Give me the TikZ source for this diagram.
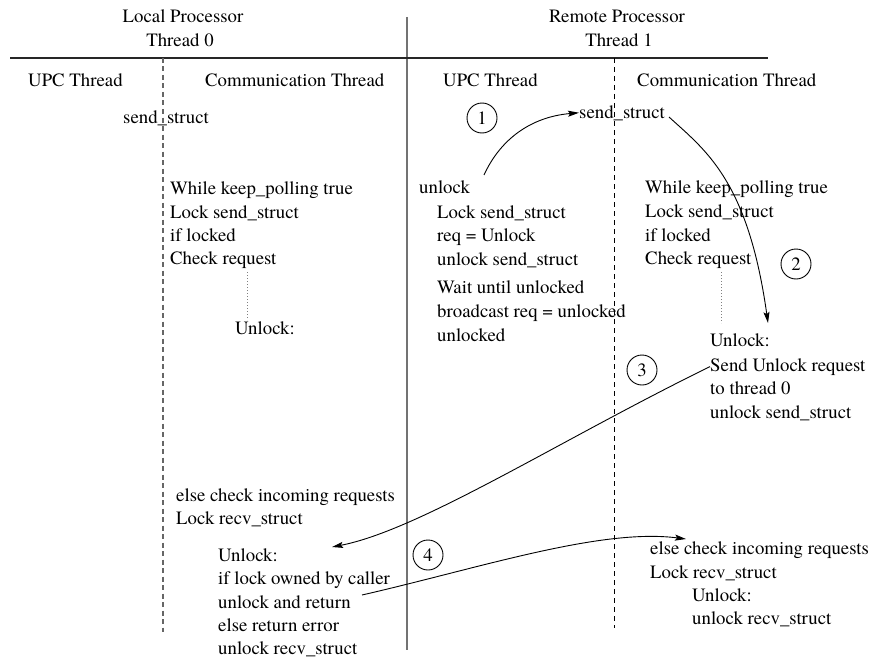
\documentclass[tikz,border=0pt]{standalone}
\usepackage{fontspec}
\setmainfont{TeX Gyre Termes}
\usetikzlibrary{arrows.meta}
\begin{document}
\begin{tikzpicture}[x=1pt,y=-1pt,
  txt/.style={anchor=base west, inner sep=0pt, font=\fontsize{18.8}{23}\selectfont},
  ctxt/.style={anchor=base, inner sep=0pt, font=\fontsize{18.8}{23}\selectfont},
  num/.style={draw, circle, minimum size=30pt, inner sep=0pt, line width=0.9pt,
    font=\fontsize{18.8}{23}\selectfont},
  flow/.style={line width=0.9pt, -{Stealth[length=11pt,width=6pt,inset=2pt]}},
  divider/.style={black!55, line width=2pt},
  rule/.style={black!85, line width=1.3pt},
  lane0/.style={black!60, line width=1.1pt, dash pattern=on 5pt off 3.5pt},
  lane1/.style={black, line width=1pt, dash pattern=on 5pt off 4pt},
  wait/.style={black!50, line width=1pt, dash pattern=on 1pt off 2pt}
]
\useasboundingbox (0,0) rectangle (874,658);

% frame of the two processors and their threads
\draw[divider] (407,17) -- (407,650);
\draw[rule] (10,58) -- (768,58);
\draw[lane0] (163,58) -- (163,632);
\draw[lane1] (614,58) -- (614,628);
\draw[wait] (247,272) -- (247,320);
\draw[wait] (721,272) -- (721,323);

% headings
\node[ctxt] (hL1) at (183,23) {Local Processor};
\node[ctxt] (hL2) at (180,47) {Thread 0};
\node[ctxt] (hR1) at (617,23) {Remote Processor};
\node[ctxt] (hR2) at (619,47) {Thread 1};
\node[txt] (cU0) at (28,87) {UPC Thread};
\node[txt] (cC0) at (205,87) {Communication Thread};
\node[txt] (cU1) at (443,87) {UPC Thread};
\node[txt] (cC1) at (637,87) {Communication Thread};

% thread 0
\node[txt] (lSend) at (123,124) {send\_struct};
\node[txt] (lW1) at (170,194) {While keep\_polling true};
\node[txt] (lW2) at (170,218) {Lock send\_struct};
\node[txt] (lW3) at (170,241) {if locked};
\node[txt] (lW4) at (170,264) {Check request};
\node[txt] (lUn) at (235,334) {Unlock:};
\node[txt] (lE1) at (176,501) {else check incoming requests};
\node[txt] (lE2) at (176,524) {Lock recv\_struct};
\node[txt] (lR1) at (218,561) {Unlock:};
\node[txt] (lR2) at (218,584) {if lock owned by caller};
\node[txt] (lR3) at (218,608) {unlock and return};
\node[txt] (lR4) at (218,631) {else return error};
\node[txt] (lR5) at (218,654) {unlock recv\_struct};

% thread 1, UPC side
\node[txt] (mU0) at (419,193) {unlock};
\node[txt] (mU1) at (437,218) {Lock send\_struct};
\node[txt] (mU2) at (437,241) {req = Unlock};
\node[txt] (mU3) at (437,265) {unlock send\_struct};
\node[txt] (mU4) at (437,293) {Wait until unlocked};
\node[txt] (mU5) at (437,317) {broadcast req = unlocked};
\node[txt] (mU6) at (437,341) {unlocked};

% thread 1, communication side
\node[txt] (rSend) at (579,118) {send\_struct};
\node[txt] (rW1) at (645,193) {While keep\_polling true};
\node[txt] (rW2) at (645,217) {Lock send\_struct};
\node[txt] (rW3) at (645,241) {if locked};
\node[txt] (rW4) at (645,264) {Check request};
\node[txt] (rS1) at (710,346) {Unlock:};
\node[txt] (rS2) at (710,371) {Send Unlock request};
\node[txt] (rS3) at (710,394) {to thread 0};
\node[txt] (rS4) at (710,418) {unlock send\_struct};
\node[txt] (rE1) at (650,554) {else check incoming requests};
\node[txt] (rE2) at (650,578) {Lock recv\_struct};
\node[txt] (rE3) at (692,601) {Unlock:};
\node[txt] (rE4) at (692,624) {unlock recv\_struct};

% step numbers
\node[num] (n1) at (482,118) {1};
\node[num] (n2) at (796,264) {2};
\node[num] (n3) at (642,370) {3};
\node[num] (n4) at (428,555) {4};

% message flow
\coordinate (a1s) at (484,175);
\coordinate (a2s) at (669,117);
\coordinate (a2e) at (768,323);
\coordinate (a3e) at (332,547);
\coordinate (a4s) at (362,595);
\coordinate (a4e) at (686,539);
\draw[flow] (a1s) .. controls (500,140) and (530,117) .. (rSend.west);
\draw[flow] (a2s) .. controls (705,150) and (748,180) .. (a2e);
\draw[flow] (rS2.west) .. controls (560,440) and (420,530) .. (a3e);
\draw[flow] (a4s) .. controls (480,568) and (600,528) .. (a4e);
\end{tikzpicture}
\end{document}
